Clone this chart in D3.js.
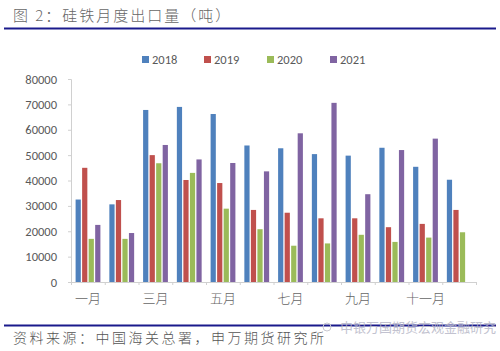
<!DOCTYPE html>
<html><head><meta charset="utf-8">
<script src="https://cdn.jsdelivr.net/npm/d3@7"></script>
<style>body{margin:0;background:#fff}svg{display:block}</style>
</head><body>
<script>
const months = ["一月","二月","三月","四月","五月","六月","七月","八月","九月","十月","十一月","十二月"];
const seriesNames = ["2018","2019","2020","2021"];
const v2018 = [32500,30600,67800,69000,66200,53800,52700,50400,49800,52900,45400,40300];
const v2019 = [45000,32300,50000,40200,39000,28400,27300,25100,25100,21600,22900,28400];
const v2020 = [17000,17000,46800,43000,28900,20800,14300,15200,18600,15800,17500,19600];
const v2021 = [22500,19300,54000,48300,46900,43600,58600,70600,34600,52000,56500,null];
const yTicks = [0,10000,20000,30000,40000,50000,60000,70000,80000];
const colors = ["#4F81BD","#C0504D","#9BBB59","#8064A2"];
const allSeries = [v2018,v2019,v2020,v2021];

const W=500,H=351;
const svg=d3.select("body").append("svg").attr("width",W).attr("height",H);
const sans="Calibri, Carlito, 'Liberation Sans', 'Noto Sans', sans-serif";
const cjk="'Noto Sans CJK SC', sans-serif";

// title
svg.append("text").attr("x",13).attr("y",21).attr("font-family",cjk).attr("font-size",15)
  .attr("font-weight",300).attr("fill","#666").attr("letter-spacing","2").text("图 2：硅铁月度出口量（吨）");
svg.append("line").attr("x1",4).attr("x2",496).attr("y1",28.5).attr("y2",28.5)
  .attr("stroke","#1a1a8c").attr("stroke-width",2.2);

// scales
const x=d3.scaleBand().domain(months).range([71,476]).padding(0);
const xi=d3.scaleBand().domain(seriesNames).range([4.6,29.4]).paddingInner(0.2).paddingOuter(0);
const y=d3.scaleLinear().domain([0,80000]).range([282,79]);

// y axis
const ya=svg.append("g").attr("transform","translate(71,0)")
  .call(d3.axisLeft(y).tickValues(yTicks).tickFormat(d3.format("d")).tickSize(3).tickPadding(11));
ya.select(".domain").attr("stroke","#d0d0d0");
ya.selectAll(".tick line").attr("stroke","#d0d0d0");
ya.selectAll("text").attr("font-family",sans).attr("font-size",12.5).attr("fill","#595959");

// x axis
const xa=svg.append("g").attr("transform","translate(0,282)")
  .call(d3.axisBottom(x).tickSize(0).tickPadding(12)
    .tickFormat((d,i)=> i%2===0 ? d : ""));
xa.select(".domain").attr("stroke","#d0d0d0");
xa.selectAll("text").attr("font-family",cjk).attr("font-size",13).attr("font-weight",300).attr("fill","#666");
// category boundary ticks
svg.append("g").selectAll("line").data(months.concat(["end"])).join("line")
  .attr("x1",(d,i)=> i<12 ? x(d)+0.5 : x.range()[1]+0.5)
  .attr("x2",(d,i)=> i<12 ? x(d)+0.5 : x.range()[1]+0.5)
  .attr("y1",282).attr("y2",285).attr("stroke","#d0d0d0");

// bars
seriesNames.forEach((s,si)=>{
  svg.append("g").selectAll("rect").data(allSeries[si].map((v,i)=>({m:months[i],v})).filter(d=>d.v!=null))
    .join("rect")
    .attr("x",d=>x(d.m)+xi(s))
    .attr("width",xi.bandwidth())
    .attr("y",d=>y(d.v))
    .attr("height",d=>y(0)-y(d.v))
    .attr("fill",colors[si]);
});

// legend
const lx=[142,204,267,330];
const lg=svg.append("g");
seriesNames.forEach((s,si)=>{
  lg.append("rect").attr("x",lx[si]).attr("y",56).attr("width",7).attr("height",7).attr("fill",colors[si]);
  lg.append("text").attr("x",lx[si]+10).attr("y",63.5).attr("font-family",sans).attr("font-size",12.5)
    .attr("fill","#595959").text(s);
});

// footer
svg.append("line").attr("x1",4).attr("x2",496).attr("y1",325.5).attr("y2",325.5)
  .attr("stroke","#1a1a8c").attr("stroke-width",2.2);
svg.append("text").attr("x",13).attr("y",343).attr("font-family",cjk).attr("font-size",14)
  .attr("font-weight",300).attr("fill","#555").attr("letter-spacing","2.5").text("资料来源：中国海关总署，申万期货研究所");
// watermark
svg.append("text").attr("x",340).attr("y",332).attr("font-family",cjk).attr("font-size",13)
  .attr("fill","#b8b8c8").attr("opacity",0.85).text("申银万国期货宏观金融研究");
svg.append("circle").attr("cx",327).attr("cy",327).attr("r",4).attr("fill","none").attr("stroke","#c8c8d0");
</script>
</body></html>
